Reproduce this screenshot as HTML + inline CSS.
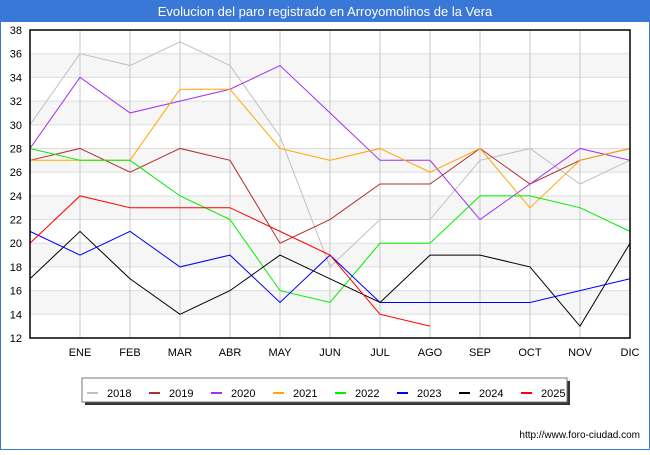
<!DOCTYPE html>
<html><head><meta charset="utf-8"><style>
body{margin:0;background:#fff;font-family:"Liberation Sans","DejaVu Sans",sans-serif}
</style></head><body>
<svg id="c" width="650" height="450" xmlns="http://www.w3.org/2000/svg">
<rect x="0" y="0" width="650" height="450" fill="#fff" stroke="#3a78d8" stroke-width="2"/>
<rect x="0" y="0" width="650" height="22" fill="#3a78d8"/>
<text x="325" y="16" text-anchor="middle" fill="#fff" font-size="13">Evolucion del paro registrado en Arroyomolinos de la Vera</text>
<g id="grid"></g><g id="series"></g><g id="axes"></g>
<text x="640" y="438" text-anchor="end" font-size="10" fill="#000">http://www.foro-ciudad.com</text>
</svg>
<script>
const months=["ENE","FEB","MAR","ABR","MAY","JUN","JUL","AGO","SEP","OCT","NOV","DIC"];
const yTicks=[12,14,16,18,20,22,24,26,28,30,32,34,36,38];
const years=["2018","2019","2020","2021","2022","2023","2024","2025"];
const colors=["#c0c0c0","#b03030","#a030f0","#ffa500","#00ee00","#0000ff","#000000","#ff0000"];
const s2018=[30,36,35,37,35,29,18,22,22,27,28,25,27];
const s2019=[27,28,26,28,27,20,22,25,25,28,25,27,28];
const s2020=[28,34,31,32,33,35,31,27,27,22,25,28,27];
const s2021=[27,27,27,33,33,28,27,28,26,28,23,27,28];
const s2022=[28,27,27,24,22,16,15,20,20,24,24,23,21];
const s2023=[21,19,21,18,19,15,19,15,15,15,15,16,17];
const s2024=[17,21,17,14,16,19,17,15,19,19,18,13,20];
const s2025=[20,24,23,23,23,21,19,14,13];
const series=[s2018,s2019,s2020,s2021,s2022,s2023,s2024,s2025];
const L=30,R=630,T=30,B=338,ymin=12,ymax=38;
const X=i=>L+(R-L)*i/12;
const Y=v=>B-(v-ymin)/(ymax-ymin)*(B-T);
const NS="http://www.w3.org/2000/svg";
function mk(t,a,p){const e=document.createElementNS(NS,t);for(const k in a)e.setAttribute(k,a[k]);p.appendChild(e);return e;}
const g=document.getElementById('grid'),sg=document.getElementById('series'),ax=document.getElementById('axes');
for(let i=0;i<yTicks.length-1;i++){
  if(i%2===1){const r=mk('rect',{x:L,y:Y(yTicks[i+1]),width:R-L,height:Y(yTicks[i])-Y(yTicks[i+1]),fill:'#f6f6f6'},g);
  
  }
}
yTicks.forEach(v=>{
  const l=mk('line',{x1:L,x2:R,y1:Y(v),y2:Y(v),stroke:'#dddddd','stroke-width':1},g);
  
  
  const t=mk('text',{x:L-8,y:Y(v)+4,'text-anchor':'end','font-size':11,fill:'#000'},ax);t.textContent=v;
  
  
});
months.forEach((m,i)=>{
  const l=mk('line',{x1:X(i+1),x2:X(i+1),y1:T,y2:B,stroke:'#c8c8c8','stroke-width':1},g);
  
  
  const t=mk('text',{x:X(i+1),y:B+18,'text-anchor':'middle','font-size':11,fill:'#000'},ax);t.textContent=m;
  
  
});
const bx=mk('rect',{x:L,y:T,width:R-L,height:B-T,fill:'none',stroke:'#000','stroke-width':1.5},ax);


series.forEach((s,k)=>{
  const p=mk('polyline',{points:s.map((v,i)=>X(i)+','+Y(v)).join(' '),fill:'none',stroke:colors[k],'stroke-width':1},sg);
  
  
});
const lg=mk('g',{},ax);


mk('rect',{x:85,y:381,width:485,height:24,fill:'#333'},lg);
mk('rect',{x:82,y:378,width:485,height:24,fill:'#fff',stroke:'#777','stroke-width':1},lg);
years.forEach((y,k)=>{
  const x0=87+k*62;
  const sw=mk('line',{x1:x0,x2:x0+11,y1:393,y2:393,stroke:colors[k],'stroke-width':2},lg);
  
  
  const t=mk('text',{x:x0+20,y:397,'font-size':11,fill:'#000'},lg);t.textContent=y;
  
  
});
</script>
</body></html>
